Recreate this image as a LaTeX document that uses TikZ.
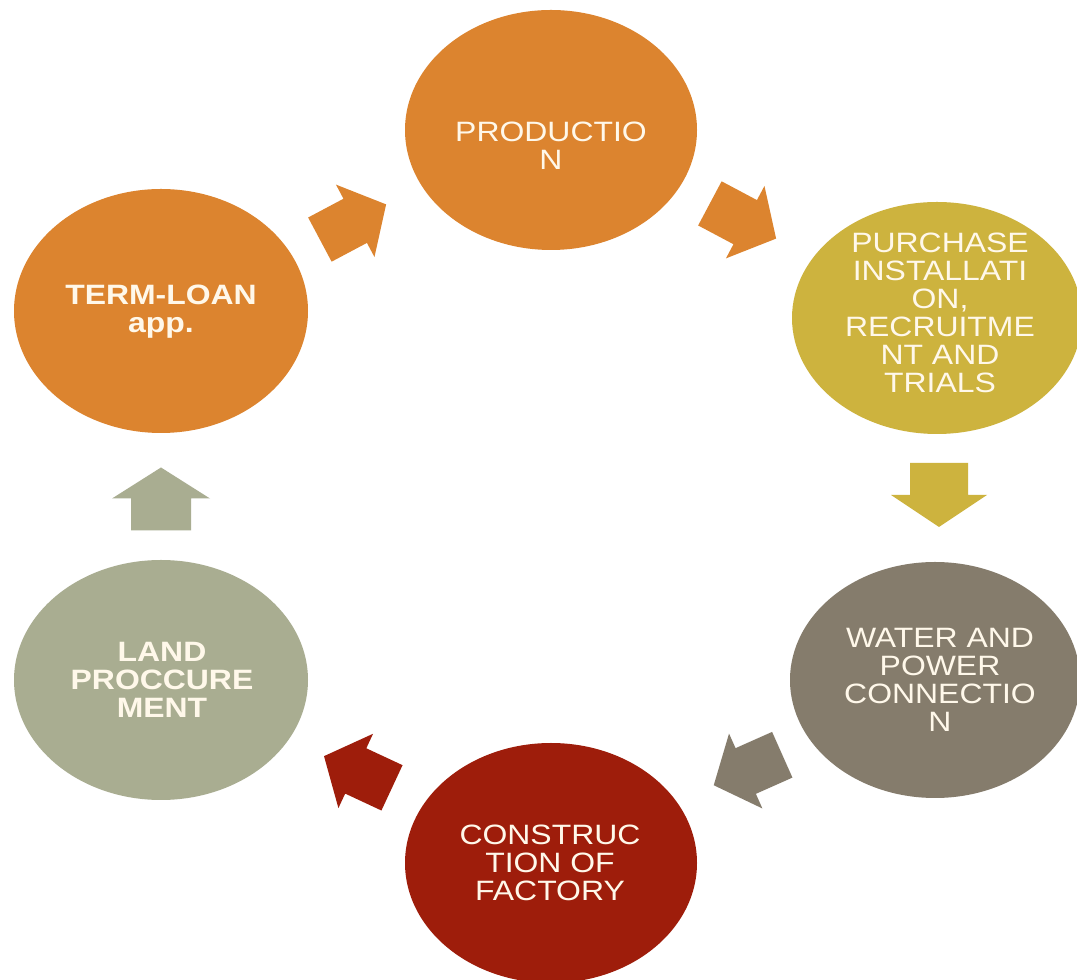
\documentclass[tikz,border=0pt]{standalone}
\usepackage{fontspec}
\setmainfont{Liberation Sans}
\usetikzlibrary{shapes.geometric}
\definecolor{orangec}{HTML}{DC842F}
\definecolor{yellowc}{HTML}{CDB33E}
\definecolor{greyc}{HTML}{857C6C}
\definecolor{redc}{HTML}{9E1D0B}
\definecolor{sagec}{HTML}{A9AD91}
\definecolor{creamc}{HTML}{FFF8EA}
\tikzset{
  stage/.style={ellipse, inner sep=0pt, draw=none},
  txt/.style={text=creamc, align=center, inner sep=0pt, xscale=1.14, font=\fontsize{28}{28}\selectfont},
  btxt/.style={txt, font=\fontsize{28}{28}\selectfont\bfseries},
  pics/barrow/.style args={#1/#2/#3/#4}{code={
    \fill[pic actions] (-#1/2,-#2/2) -- (#1/2-#4,-#2/2) -- (#1/2-#4,-#3/2) -- (#1/2,0)
      -- (#1/2-#4,#3/2) -- (#1/2-#4,#2/2) -- (-#1/2,#2/2) -- cycle;
  }}
}
\begin{document}
\begin{tikzpicture}[x=1pt,y=1pt]
\fill[white] (0,0) rectangle (1077,980);
\useasboundingbox (0,0) rectangle (1077,980);
% stages
\node[stage, fill=orangec, minimum width=292, minimum height=240] (prod) at (551,850) {};
\node[stage, fill=orangec, minimum width=294, minimum height=244] (term) at (161,669) {};
\node[stage, fill=yellowc, minimum width=290, minimum height=232] (purch) at (937,662) {};
\node[stage, fill=greyc, minimum width=290, minimum height=236] (water) at (935,300) {};
\node[stage, fill=redc, minimum width=292, minimum height=240] (cons) at (551,117) {};
\node[stage, fill=sagec, minimum width=294, minimum height=240] (land) at (161,300) {};
% texts
\node[txt] (prodtxt) at (551,834) {PRODUCTIO\\N};
\node[btxt] (termtxt) at (161,668) {TERM-LOAN\\app.};
\node[txt] (purchtxt) at (940,667) {PURCHASE\\INSTALLATI\\ON,\\RECRUITME\\NT AND\\TRIALS};
\node[txt] (watertxt) at (940,300) {WATER AND\\POWER\\CONNECTIO\\N};
\node[txt] (constxt) at (550,117) {CONSTRUC\\TION OF\\FACTORY};
\node[btxt] (landtxt) at (162,300) {LAND\\PROCCURE\\MENT};
% block arrows
\pic (a1) [rotate=28, fill=orangec] at (353,758) {barrow=75/50/82/35};
\pic (a2) [rotate=-28, fill=orangec] at (743,759) {barrow=75/50/82/35};
\pic (a3) [rotate=-90, fill=yellowc] at (939,485) {barrow=64/58/96/32};
\pic (a4) [rotate=204, fill=greyc] at (748,210) {barrow=75/50/82/35};
\pic (a5) [rotate=155, fill=redc] at (358,208) {barrow=75/50/82/35};
\pic (a6) [rotate=90, fill=sagec] at (161,481) {barrow=63/60/98/31};
\end{tikzpicture}
\end{document}
